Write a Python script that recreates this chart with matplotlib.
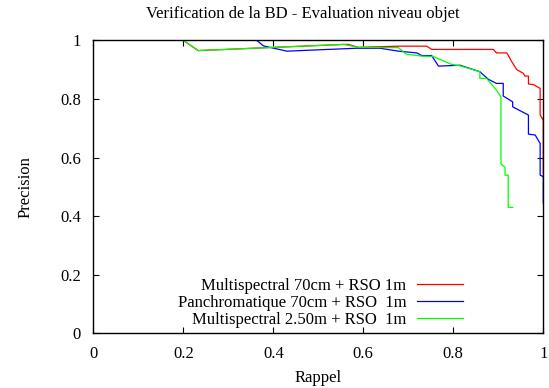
import matplotlib
matplotlib.use("Agg")
import matplotlib.pyplot as plt
from matplotlib.ticker import FuncFormatter

plt.rcParams['font.family'] = ['Liberation Serif', 'DejaVu Serif']
plt.rcParams['font.size'] = 12

# recall / precision curves
red_x = [0.177, 0.2, 0.233, 0.556, 0.567, 0.589, 0.678, 0.741, 0.752, 0.889, 0.896, 0.919,
         0.93, 0.941, 0.956, 0.959, 0.967, 0.967, 0.978, 0.993, 0.993, 1.0, 1.0]
red_y = [1.0, 1.0, 0.965, 0.986, 0.986, 0.976, 0.98, 0.98, 0.969, 0.969, 0.957, 0.957,
         0.927, 0.9, 0.887, 0.878, 0.878, 0.851, 0.849, 0.836, 0.745, 0.728, 0.54]

blue_x = [0.2, 0.363, 0.378, 0.43, 0.585, 0.637, 0.678, 0.719, 0.73, 0.752, 0.767, 0.815,
          0.859, 0.878, 0.896, 0.911, 0.911, 0.932, 0.932, 0.967, 0.967, 0.982, 0.993,
          0.993, 1.0, 1.0]
blue_y = [1.0, 1.0, 0.981, 0.963, 0.973, 0.973, 0.963, 0.957, 0.948, 0.948, 0.912, 0.915,
          0.893, 0.867, 0.853, 0.853, 0.81, 0.79, 0.773, 0.745, 0.68, 0.677, 0.648,
          0.54, 0.535, 0.445]

green_x = [0.177, 0.2, 0.233, 0.556, 0.589, 0.678, 0.695, 0.73, 0.755, 0.796, 0.815, 0.859,
           0.859, 0.874, 0.896, 0.906, 0.906, 0.915, 0.915, 0.922, 0.922, 0.932]
green_y = [1.0, 1.0, 0.965, 0.986, 0.976, 0.975, 0.953, 0.946, 0.945, 0.918, 0.913, 0.893,
           0.87, 0.87, 0.83, 0.807, 0.578, 0.567, 0.54, 0.54, 0.43, 0.43]

labels = ["Multispectral 70cm + RSO 1m",
          "Panchromatique 70cm + RSO  1m",
          "Multispectral 2.50m + RSO  1m"]
ticks = [0, 0.2, 0.4, 0.6, 0.8, 1]

fig = plt.figure(figsize=(5.49, 3.88), dpi=100)
ax = fig.add_axes([0.170, 0.1405, 0.8196, 0.7556])

ax.plot(red_x, red_y, color='#ff0000', lw=0.9, label=labels[0])
ax.plot(blue_x, blue_y, color='#0000ff', lw=0.9, label=labels[1])
ax.plot(green_x, green_y, color='#00ff00', lw=0.9, label=labels[2])

ax.set_xlim(0, 1)
ax.set_ylim(0, 1)
ax.set_xticks(ticks)
ax.set_yticks(ticks)
ax.xaxis.set_major_formatter(FuncFormatter(lambda v, p: '%g' % v))
ax.yaxis.set_major_formatter(FuncFormatter(lambda v, p: '%g' % v))
ax.tick_params(direction='in', top=True, right=True, length=4, width=0.8,
               labelsize=12, pad=9)
for s in ax.spines.values():
    s.set_linewidth(1.0)

ax.set_title("Verification de la BD - Evaluation niveau objet", fontsize=12,
             pad=16, x=0.466)
ax.set_xlabel("Rappel", fontsize=12, labelpad=6)
ax.set_ylabel("Precision", fontsize=12, labelpad=19)

ax.legend(loc='lower right', bbox_to_anchor=(0.822, 0.02), frameon=False,
          markerfirst=False, handlelength=2.8, handletextpad=0.6,
          labelspacing=0.05, borderpad=0, borderaxespad=0, fontsize=12)

plt.savefig('out.png', dpi=100)
